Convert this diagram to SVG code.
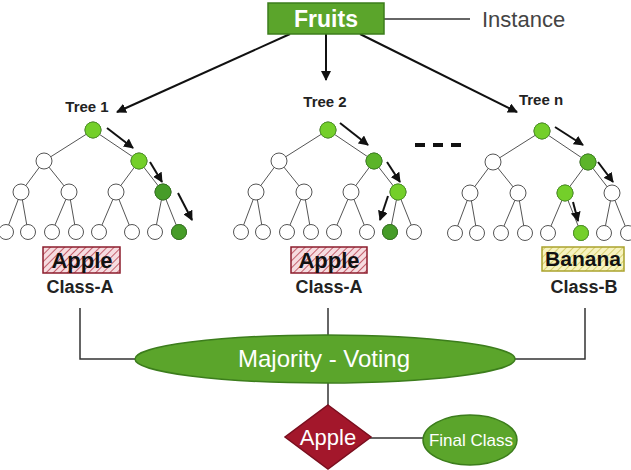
<svg xmlns="http://www.w3.org/2000/svg" xmlns:xlink="http://www.w3.org/1999/xlink" width="631" height="470" viewBox="0 0 631 470">
<style>
.edge{stroke:#555;stroke-width:1;fill:none}
.wn{fill:#fff;stroke:#555;stroke-width:1}
.lg{fill:#74cf2a;stroke:#4e9a22;stroke-width:1}
.mg{fill:#5cb42a;stroke:#3f8a1f;stroke-width:1}
.dg{fill:#469c28;stroke:#357a1e;stroke-width:1}
.arr{stroke:#111;stroke-width:2;fill:none;marker-end:url(#ah)}
.conn{stroke:#333;stroke-width:1.5;fill:none}
.tl{font-family:"Liberation Sans",Arial,sans-serif;font-weight:bold;font-size:15px;fill:#222;text-anchor:middle}
.cls{font-family:"Liberation Sans",Arial,sans-serif;font-weight:bold;font-size:18px;fill:#222;text-anchor:middle}
.lbl{font-family:"Liberation Sans",Arial,sans-serif;font-weight:bold;font-size:21px;fill:#111;text-anchor:middle}
.wt{font-family:"Liberation Sans",Arial,sans-serif;fill:#fff;text-anchor:middle}
.green{fill:#5ba52b;stroke:#3c7d1c;stroke-width:1.5}
</style>
<defs>
<marker id="ah" viewBox="0 0 10 10" refX="9" refY="5" markerWidth="5" markerHeight="5" orient="auto" markerUnits="strokeWidth">
<path d="M0,0 L10,5 L0,10 z" fill="#111"/>
</marker>
<pattern id="hatchRed" patternUnits="userSpaceOnUse" width="5" height="5" patternTransform="rotate(45)">
<rect width="5" height="5" fill="#f6dce0"/>
<line x1="0" y1="0" x2="0" y2="5" stroke="#b8404f" stroke-width="1.6"/>
</pattern>
<pattern id="hatchYel" patternUnits="userSpaceOnUse" width="5" height="5" patternTransform="rotate(45)">
<rect width="5" height="5" fill="#f7f3c0"/>
<line x1="0" y1="0" x2="0" y2="5" stroke="#cfc65a" stroke-width="1.6"/>
</pattern>
<g id="treeShape">
<path class="edge" d="M93,130 L44,161 M93,130 L139,161 M44,161 L21,192 M44,161 L69,192 M139,161 L116,192 M139,161 L163,192 M21,192 L6,232 M21,192 L28,232 M69,192 L52,232 M69,192 L76,232 M116,192 L99,232 M116,192 L132,232 M163,192 L155,232 M163,192 L179,232"/>
<circle class="wn" cx="93" cy="130" r="8"/>
<circle class="wn" cx="44" cy="161" r="8"/>
<circle class="wn" cx="139" cy="161" r="8"/>
<circle class="wn" cx="21" cy="192" r="8"/>
<circle class="wn" cx="69" cy="192" r="8"/>
<circle class="wn" cx="116" cy="192" r="8"/>
<circle class="wn" cx="163" cy="192" r="8"/>
<circle class="wn" cx="6" cy="232" r="7.5"/>
<circle class="wn" cx="28" cy="232" r="7.5"/>
<circle class="wn" cx="52" cy="232" r="7.5"/>
<circle class="wn" cx="76" cy="232" r="7.5"/>
<circle class="wn" cx="99" cy="232" r="7.5"/>
<circle class="wn" cx="132" cy="232" r="7.5"/>
<circle class="wn" cx="155" cy="232" r="7.5"/>
<circle class="wn" cx="179" cy="232" r="7.5"/>
</g>
</defs>
<rect width="631" height="470" fill="#fff"/>

<g id="connectors">
<line class="conn" x1="384" y1="19" x2="470" y2="19"/>
<line class="arr" x1="290" y1="34" x2="117" y2="112"/>
<line class="arr" x1="326" y1="34" x2="326" y2="80"/>
<line class="arr" x1="360" y1="34" x2="517" y2="112"/>
<polyline class="conn" points="80,308 80,359 135,359"/>
<line class="conn" x1="328" y1="308" x2="328" y2="335"/>
<polyline class="conn" points="585,308 585,359 515,359"/>
<line class="conn" x1="328" y1="383" x2="328" y2="405"/>
<line class="conn" x1="370" y1="438" x2="423" y2="438"/>
</g>

<g id="fruits">
<rect x="268" y="3" width="116" height="31" class="green"/>
<text x="326" y="27" class="wt" style="font-weight:bold;font-size:23px">Fruits</text>
</g>

<g id="instance">
<text x="482" y="27" style="font-family:'Liberation Sans',Arial,sans-serif;font-size:22px;fill:#444">Instance</text>
</g>

<g id="tree1">
<text x="87" y="112" class="tl">Tree 1</text>
<use xlink:href="#treeShape"/>
<circle class="lg" cx="93" cy="130" r="8"/>
<circle class="lg" cx="139" cy="161" r="8"/>
<circle class="dg" cx="163" cy="192" r="8"/>
<circle class="dg" cx="179" cy="232" r="7.5"/>
<line class="arr" x1="107" y1="128" x2="133" y2="148"/>
<line class="arr" x1="150" y1="162" x2="162" y2="182"/>
<line class="arr" x1="178" y1="193" x2="192" y2="220"/>
</g>

<g id="tree2">
<text x="325" y="107" class="tl">Tree 2</text>
<use xlink:href="#treeShape" transform="translate(235,0)"/>
<circle class="lg" cx="328" cy="130" r="8"/>
<circle class="mg" cx="374" cy="161" r="8"/>
<circle class="lg" cx="398" cy="192" r="8"/>
<circle class="dg" cx="390" cy="232" r="7.5"/>
<line class="arr" x1="340" y1="123" x2="368" y2="145"/>
<line class="arr" x1="387" y1="162" x2="400" y2="182"/>
<line class="arr" x1="388" y1="196" x2="380" y2="220"/>
</g>

<g id="dots">
<line x1="415" y1="145" x2="463" y2="145" stroke="#111" stroke-width="4" stroke-dasharray="10 8"/>
</g>

<g id="treen">
<text x="541" y="105" class="tl">Tree n</text>
<use xlink:href="#treeShape" transform="translate(449,1)"/>
<circle class="lg" cx="542" cy="131" r="8"/>
<circle class="mg" cx="588" cy="162" r="8"/>
<circle class="lg" cx="565" cy="193" r="8"/>
<circle class="lg" cx="581" cy="233" r="7.5"/>
<line class="arr" x1="555" y1="127" x2="583" y2="145"/>
<line class="arr" x1="598" y1="162" x2="613" y2="182"/>
<line class="arr" x1="573" y1="202" x2="578" y2="221"/>
</g>

<g id="result1">
<rect x="43" y="247" width="77" height="26" fill="url(#hatchRed)" stroke="#8c1d2d" stroke-width="1.5"/>
<text x="82" y="268" class="lbl" style="font-size:22px">Apple</text>
<text x="80" y="293" class="cls">Class-A</text>
</g>

<g id="result2">
<rect x="291" y="247" width="76" height="26" fill="url(#hatchRed)" stroke="#8c1d2d" stroke-width="1.5"/>
<text x="329" y="268" class="lbl" style="font-size:22px">Apple</text>
<text x="329" y="293" class="cls">Class-A</text>
</g>

<g id="result3">
<rect x="542" y="247" width="82" height="24" fill="url(#hatchYel)" stroke="#aaa32c" stroke-width="1.5"/>
<text x="583" y="266" class="lbl">Banana</text>
<text x="584" y="293" class="cls">Class-B</text>
</g>

<g id="majority">
<ellipse cx="325" cy="359" rx="190" ry="24" class="green"/>
<text x="324" y="367" class="wt" style="font-size:24px">Majority - Voting</text>
</g>

<g id="final-apple">
<polygon points="328,405 371,437 328,469 285,437" fill="#a3172b" stroke="#7a0e1e" stroke-width="1.5"/>
<text x="328" y="445" class="wt" style="font-size:22px">Apple</text>
</g>

<g id="final-class">
<ellipse cx="470" cy="440" rx="47" ry="25" class="green"/>
<text x="471" y="446" class="wt" style="font-size:17px">Final Class</text>
</g>
</svg>
